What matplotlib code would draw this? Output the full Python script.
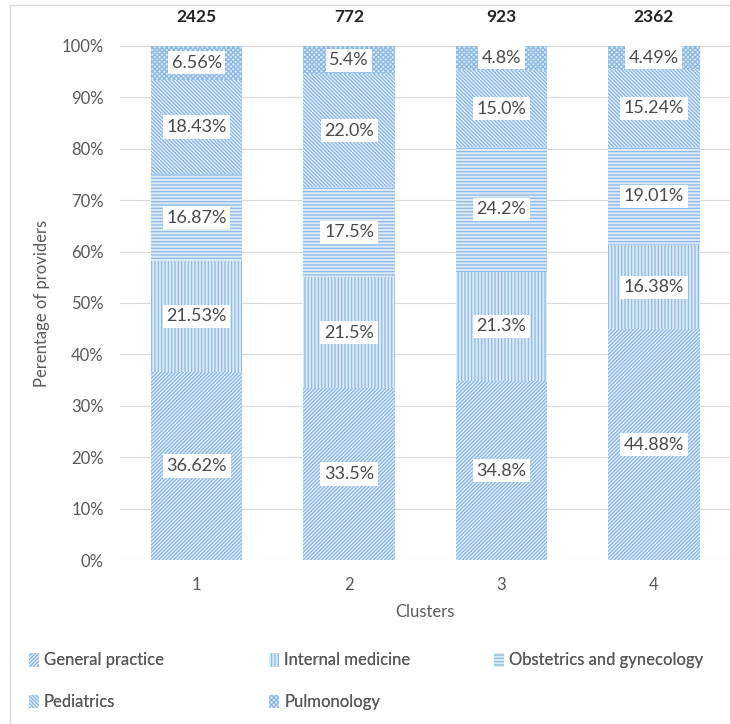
import matplotlib
matplotlib.use("Agg")
import matplotlib.pyplot as plt
import numpy as np
from matplotlib.patches import Rectangle, Patch

plt.rcParams['font.family'] = ['Lato', 'DejaVu Sans']
plt.rcParams['hatch.linewidth'] = 0.9

clusters = ['1', '2', '3', '4']
totals = [2425, 772, 923, 2362]
specialties = ['General practice', 'Internal medicine', 'Obstetrics and gynecology',
               'Pediatrics', 'Pulmonology']
general_practice = [36.62, 33.5, 34.8, 44.88]
internal_medicine = [21.53, 21.5, 21.3, 16.38]
obstetrics = [16.87, 17.5, 24.2, 19.01]
pediatrics = [18.43, 22.0, 15.0, 15.24]
pulmonology = [6.56, 5.4, 4.8, 4.49]
labels = [
    ['36.62%', '33.5%', '34.8%', '44.88%'],
    ['21.53%', '21.5%', '21.3%', '16.38%'],
    ['16.87%', '17.5%', '24.2%', '19.01%'],
    ['18.43%', '22.0%', '15.0%', '15.24%'],
    ['6.56%', '5.4%', '4.8%', '4.49%'],
]
series = [general_practice, internal_medicine, obstetrics, pediatrics, pulmonology]
hatches = ['/' * 9, '|' * 5, '-' * 5, '\\' * 9, 'x' * 7]

face = '#dce9f7'
hatch_col = '#8ab8e6'

fig = plt.figure(figsize=(7.30, 7.24), dpi=100)
fig.patches.append(Rectangle((0.014, -0.01), 1.0, 1.003, transform=fig.transFigure,
                             fill=False, edgecolor='#d9d9d9', linewidth=1.0))
ax = fig.add_axes([0.165, 0.2265, 0.835, 0.71])

x = np.arange(1, len(clusters) + 1)
bottom = np.zeros(len(clusters))
for vals, h, name, labs in zip(series, hatches, specialties, labels):
    vals = np.array(vals)
    ax.bar(x, vals, 0.6, bottom=bottom, color=face, edgecolor=hatch_col,
           hatch=h, linewidth=0, label=name, zorder=2)
    for xi, b, v, t in zip(x, bottom, vals, labs):
        ax.text(xi, b + v / 2, t, ha='center', va='center', fontsize=13,
                color='#4a4a4a', zorder=3,
                bbox=dict(boxstyle='square,pad=0.2', fc='white', ec='none'))
    bottom += vals

for xi, t in zip(x, totals):
    ax.text(xi, 104, str(t), ha='center', va='bottom', fontsize=12.5,
            fontweight='bold', color='#222222')

ax.set_xlim(0.5, 4.5)
ax.set_ylim(0, 100)
ax.set_yticks(np.arange(0, 101, 10))
ax.set_yticklabels([f'{v}%' for v in range(0, 101, 10)])
ax.set_xticks(x)
ax.set_xticklabels(clusters)
ax.grid(axis='y', color='#d9d9d9', linewidth=0.8, zorder=0)
for s in ax.spines.values():
    s.set_visible(False)
ax.tick_params(length=0, labelsize=12, labelcolor='#595959', pad=12)
ax.set_ylabel('Perentage of providers', fontsize=12, color='#595959', labelpad=8)
ax.set_xlabel('Clusters', fontsize=12, color='#595959', labelpad=8)

# legend laid out row by row in three fixed columns
columns = [[0, 3], [1, 4], [2]]
col_x = [0.03, 0.36, 0.668]
for idx, cx in zip(columns, col_x):
    handles = [Patch(facecolor=face, edgecolor=hatch_col, hatch=hatches[i], linewidth=0)
               for i in idx]
    leg = fig.legend(handles, [specialties[i] for i in idx], loc='upper left',
                     bbox_to_anchor=(cx, 0.108), frameon=False, fontsize=12,
                     labelcolor='#595959', handlelength=0.6, handleheight=0.9,
                     handletextpad=0.3, labelspacing=1.55, borderaxespad=0)
    fig.add_artist(leg)

fig.savefig('out.png', dpi=100)
